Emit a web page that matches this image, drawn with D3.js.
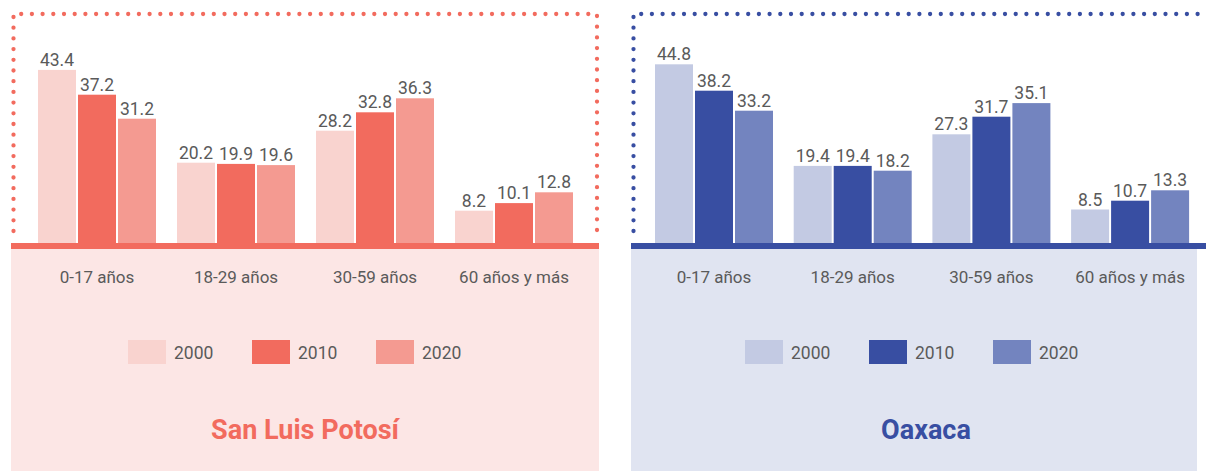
<!DOCTYPE html>
<html>
<head>
<meta charset="utf-8">
<script src="https://cdn.jsdelivr.net/npm/d3@7"></script>
<style>
  body { margin: 0; background: #fff; }
  svg { display: block; font-family: Roboto, "Noto Sans", sans-serif; }
</style>
</head>
<body>
<div id="chart"></div>
<script>
// datos
var categorias = ["0-17 años", "18-29 años", "30-59 años", "60 años y más"];
var anios = ["2000", "2010", "2020"];
var slp2000 = [43.4, 20.2, 28.2, 8.2];
var slp2010 = [37.2, 19.9, 32.8, 10.1];
var slp2020 = [31.2, 19.6, 36.3, 12.8];
var oax2000 = [44.8, 19.4, 27.3, 8.5];
var oax2010 = [38.2, 19.4, 31.7, 10.7];
var oax2020 = [33.2, 18.2, 35.1, 13.3];

var width = 1206, height = 471;
var baseY = 243.5;

var svg = d3.select("#chart").append("svg")
    .attr("width", width)
    .attr("height", height);

var y = d3.scaleLinear().domain([0, 50]).range([baseY, baseY - 200]);

var paneles = [
    {titulo: "San Luis Potosí", series: [slp2000, slp2010, slp2020],
     colores: ["#f9d3cf", "#f26b5e", "#f49a91"], fondo: "#fce6e5", linea: "#f26b5e",
     bgX: 11, bgW: 588, lineW: 588, barStart: 38, step: 139, legX: 128, tituloX: 305,
     punteado: "M13.5,231V14H597V236"},
    {titulo: "Oaxaca", series: [oax2000, oax2010, oax2020],
     colores: ["#c3cae3", "#384ea2", "#7384bf"], fondo: "#e0e4f1", linea: "#384ea2",
     bgX: 631, bgW: 566, lineW: 575, barStart: 655, step: 138.7, legX: 745, tituloX: 926,
     punteado: "M633.5,231V14H1206"}
];

paneles.forEach(function(p){
    var g = svg.append("g");

    // fondo inferior
    g.append("rect")
        .attr("x", p.bgX).attr("y", 249)
        .attr("width", p.bgW).attr("height", height - 249)
        .attr("fill", p.fondo);

    // borde punteado
    g.append("path")
        .attr("d", p.punteado)
        .attr("fill", "none")
        .attr("stroke", p.linea)
        .attr("stroke-width", 4.3)
        .attr("stroke-linecap", "round")
        .attr("stroke-dasharray", "0 10.7");

    var bandW = 118;
    var x0 = d3.scaleBand()
        .domain(categorias)
        .range([p.barStart, p.barStart + p.step * 3 + bandW])
        .paddingInner((p.step - bandW) / p.step)
        .paddingOuter(0);
    var x1 = d3.scaleBand()
        .domain(anios)
        .range([0, bandW])
        .paddingInner(2 / 40);
    var color = d3.scaleOrdinal().domain(anios).range(p.colores);

    var datos = [];
    categorias.forEach(function(c, i){
        anios.forEach(function(a, j){
            datos.push({cat: c, anio: a, valor: p.series[j][i]});
        });
    });

    g.selectAll("rect.barra")
        .data(datos)
        .enter()
        .append("rect")
        .attr("class", "barra")
        .attr("x", d => x0(d.cat) + x1(d.anio))
        .attr("y", d => y(d.valor))
        .attr("width", x1.bandwidth())
        .attr("height", d => y(0) - y(d.valor))
        .attr("fill", d => color(d.anio));

    g.selectAll("text.valor")
        .data(datos)
        .enter()
        .append("text")
        .attr("class", "valor")
        .attr("x", d => x0(d.cat) + x1(d.anio) + x1.bandwidth() / 2)
        .attr("y", d => y(d.valor) - 4)
        .attr("text-anchor", "middle")
        .attr("font-size", "17.5px")
        .attr("fill", "#5a5a5a")
        .text(d => d.valor.toFixed(1));

    // linea base
    g.append("rect")
        .attr("x", p.bgX).attr("y", 243)
        .attr("width", p.lineW).attr("height", 6)
        .attr("fill", p.linea);

    // eje x
    var eje = d3.axisBottom(x0).tickSize(0).tickPadding(0);
    var ga = g.append("g")
        .attr("transform", "translate(0,270)")
        .call(eje);
    ga.select(".domain").remove();
    ga.selectAll("text")
        .attr("font-size", "17px")
        .attr("font-family", "Roboto, sans-serif")
        .attr("fill", "#5a5a5a")
        .attr("dy", "0.75em");

    // leyenda
    var leg = g.selectAll("g.leg")
        .data(anios)
        .enter()
        .append("g")
        .attr("class", "leg")
        .attr("transform", (d, i) => "translate(" + (p.legX + i * 124) + ",340)");
    leg.append("rect")
        .attr("width", 38).attr("height", 24)
        .attr("fill", d => color(d));
    leg.append("text")
        .attr("x", 46).attr("y", 19)
        .attr("font-size", "17.5px")
        .attr("fill", "#5a5a5a")
        .text(d => d);

    // titulo
    g.append("text")
        .attr("x", p.tituloX).attr("y", 439)
        .attr("text-anchor", "middle")
        .attr("font-size", "27px")
        .attr("font-weight", "bold")
        .attr("fill", p.linea)
        .text(p.titulo);
});
</script>
</body>
</html>
